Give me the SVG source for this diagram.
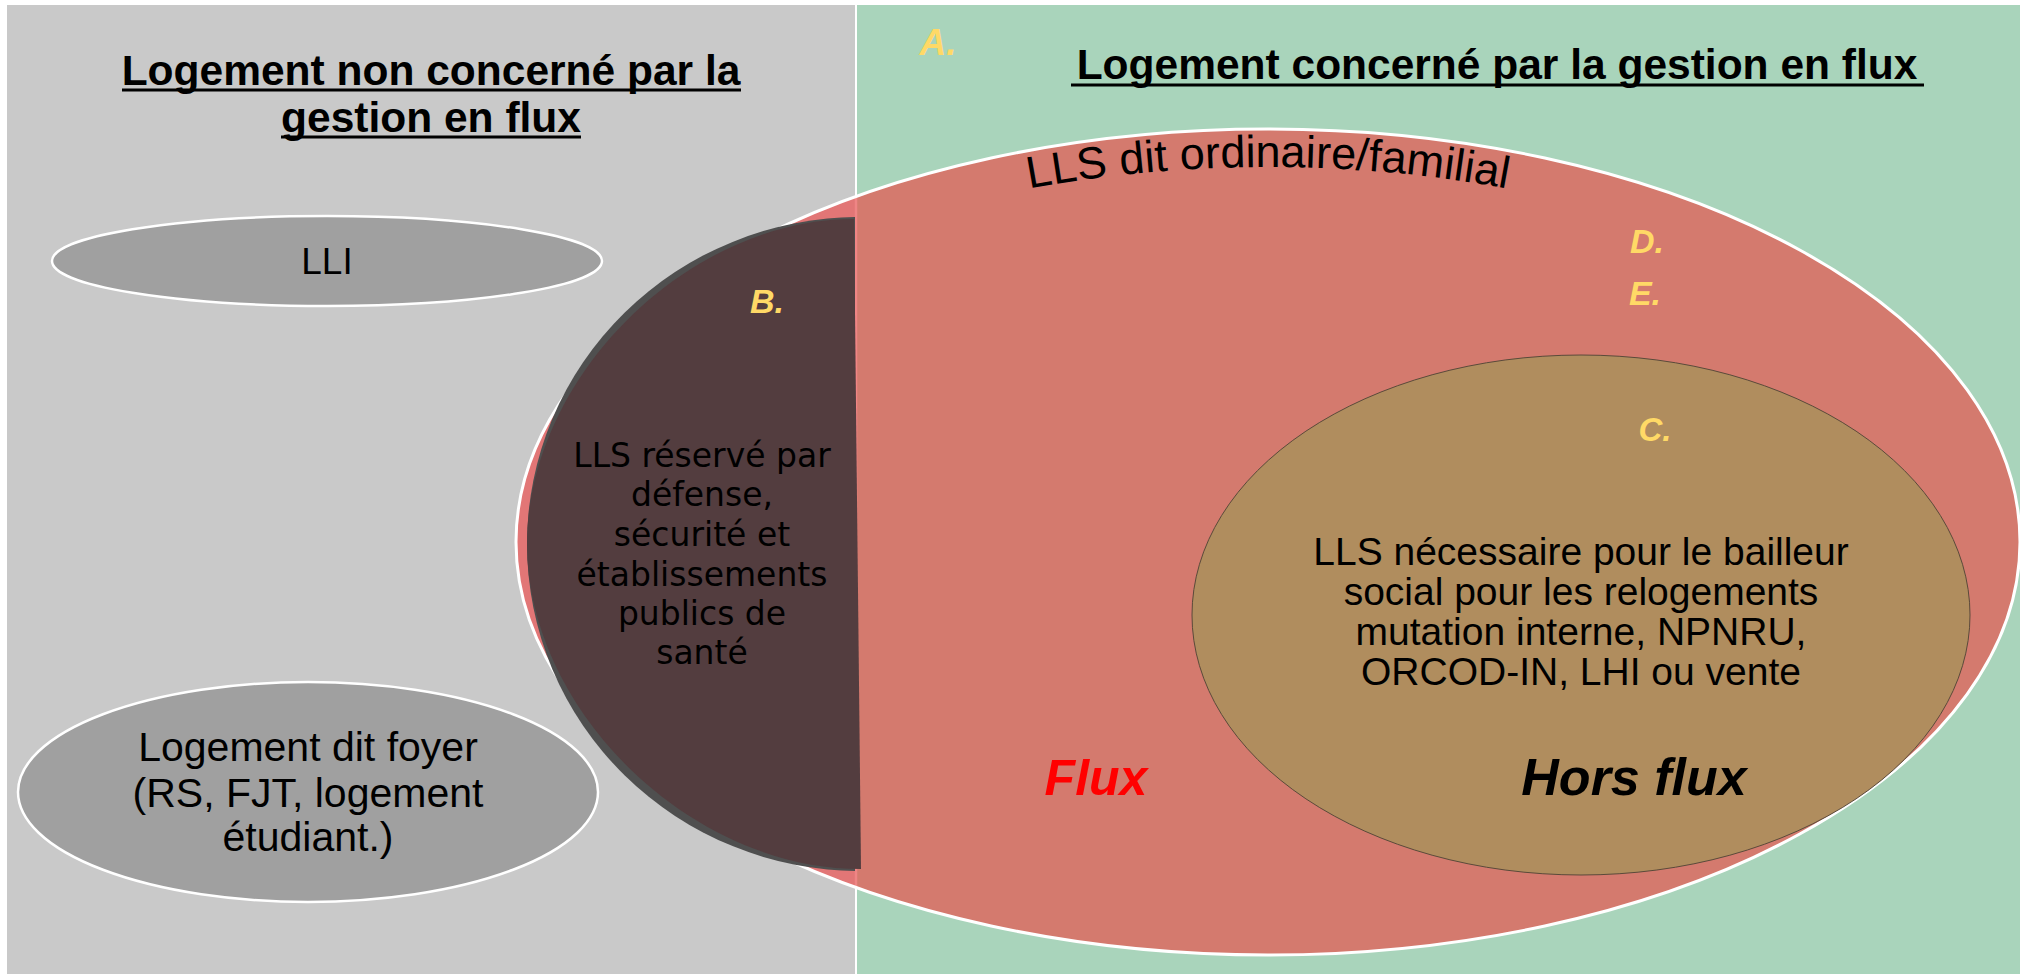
<svg xmlns="http://www.w3.org/2000/svg" width="2020" height="974" viewBox="0 0 2020 974">
<style>
.title{font-family:"Liberation Sans",Arial,sans-serif;font-weight:bold;font-size:42.5px;fill:#000;text-anchor:middle}
.body{font-family:"Liberation Sans",Arial,sans-serif;fill:#000;text-anchor:middle}
.geo{font-family:"DejaVu Sans",sans-serif;font-size:33px;fill:#000;text-anchor:middle}
.tag{font-family:"Liberation Sans",Arial,sans-serif;font-weight:bold;font-style:italic;fill:#FFD966;text-anchor:middle}
.big{font-family:"Liberation Sans",Arial,sans-serif;font-weight:bold;font-style:italic;text-anchor:middle}
.uline{stroke:#000;stroke-width:3}
.grayell{fill:#a0a0a0;stroke:#fff;stroke-width:2.5}
</style>
<defs>
<clipPath id="leftSide"><rect x="0" y="0" width="855" height="974"/></clipPath>
<clipPath id="redClip"><ellipse cx="1268" cy="542" rx="752" ry="413"/></clipPath>
<path id="arcPath" d="M 554 542 A 714 375 0 0 1 1982 542"/>
</defs>

<g id="panel-left">
<rect x="7" y="5" width="848" height="969" fill="#c9c9c9"/>
<text class="title" x="431" y="85">Logement non concerné par la</text>
<text class="title" x="431" y="132">gestion en flux</text>
<line class="uline" x1="122" y1="90" x2="741" y2="90"/>
<line class="uline" x1="281" y1="137" x2="581" y2="137"/>
</g>

<g id="panel-right">
<rect x="857" y="5" width="1163" height="969" fill="#a9d4bb"/>
<line x1="856" y1="5" x2="856" y2="974" stroke="#ffffff" stroke-width="2"/>
<text class="title" x="1497" y="79">Logement concerné par la gestion en flux</text>
<line class="uline" x1="1071" y1="85" x2="1924" y2="85"/>
<text class="tag" x="938" y="55" font-size="37">A.</text>
</g>

<g id="lls-ordinaire">
<ellipse cx="1268" cy="542" rx="752" ry="413" fill="#d47a6e"/>
<ellipse cx="1268" cy="542" rx="752" ry="413" fill="#e27676" clip-path="url(#leftSide)"/>
<line x1="856" y1="100" x2="856" y2="980" stroke="#ef8585" stroke-width="2.5" clip-path="url(#redClip)"/>
<ellipse cx="1268" cy="542" rx="752" ry="413" fill="none" stroke="#ffffff" stroke-width="3"/>
<text class="body" font-size="45"><textPath href="#arcPath" startOffset="50%">LLS dit ordinaire/familial</textPath></text>
<text class="tag" x="1647" y="253" font-size="34">D.</text>
<text class="tag" x="1645" y="305" font-size="34">E.</text>
<text class="big" x="1096" y="795" font-size="50" fill="#ff0000">Flux</text>
</g>

<g id="lls-reserve">
<ellipse cx="860" cy="544" rx="333" ry="327" fill="#4f4f4f" clip-path="url(#leftSide)"/>
<path d="M 854 219 C 687 219 527 378 527 544 C 527 710 690 869 861 869 Z" fill="#533d3f"/>
<text class="geo" x="702" y="467">LLS réservé par</text>
<text class="geo" x="702" y="506">défense,</text>
<text class="geo" x="702" y="546">sécurité et</text>
<text class="geo" x="702" y="586">établissements</text>
<text class="geo" x="702" y="625">publics de</text>
<text class="geo" x="702" y="664">santé</text>
<text class="tag" x="767" y="313" font-size="34">B.</text>
</g>

<g id="lls-necessaire">
<ellipse cx="1581" cy="615" rx="389" ry="260" fill="#b08d5e" stroke="#5a4a3a" stroke-width="1"/>
<text class="tag" x="1655" y="441" font-size="33">C.</text>
<text class="body" font-size="39" x="1581" y="565">LLS nécessaire pour le bailleur</text>
<text class="body" font-size="39" x="1581" y="605">social pour les relogements</text>
<text class="body" font-size="39" x="1581" y="645">mutation interne, NPNRU,</text>
<text class="body" font-size="39" x="1581" y="685">ORCOD-IN, LHI ou vente</text>
<text class="big" x="1634" y="795" font-size="52" fill="#000">Hors flux</text>
</g>

<g id="lli">
<ellipse class="grayell" cx="327" cy="261" rx="275" ry="45"/>
<text class="body" font-size="37" x="327" y="274">LLI</text>
</g>

<g id="foyer">
<ellipse class="grayell" cx="308" cy="792" rx="290" ry="110"/>
<text class="body" font-size="41" x="308" y="761">Logement dit foyer</text>
<text class="body" font-size="41" x="308" y="807">(RS, FJT, logement</text>
<text class="body" font-size="41" x="308" y="851">étudiant.)</text>
</g>
</svg>
